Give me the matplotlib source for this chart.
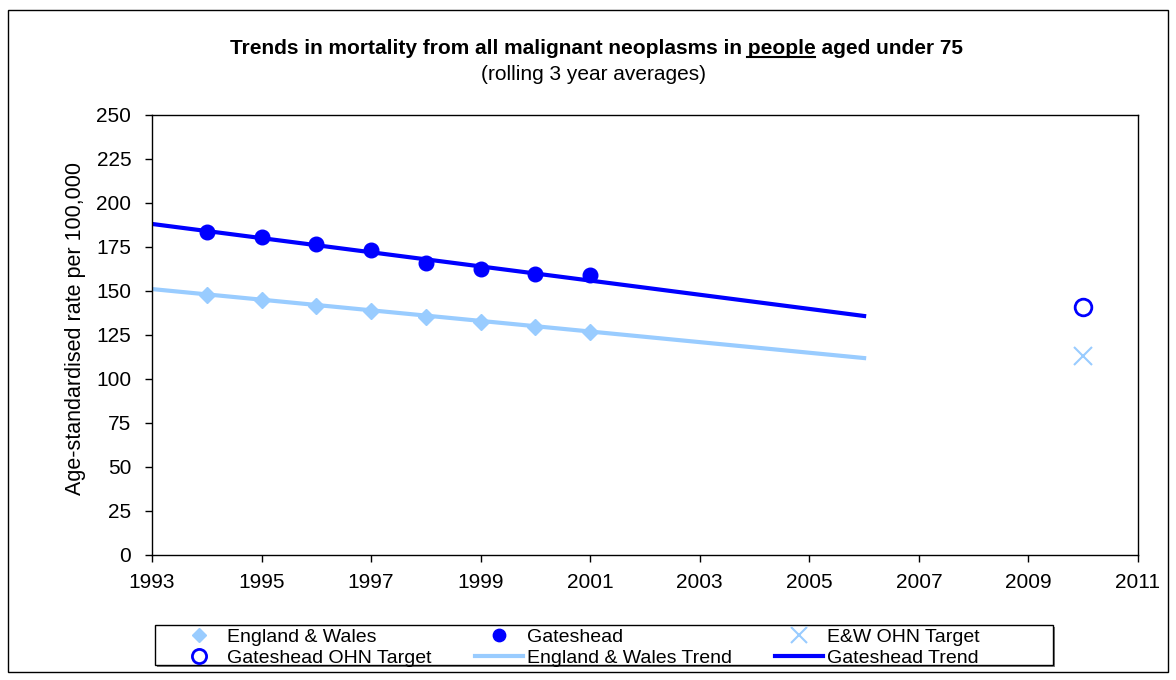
import matplotlib.pyplot as plt
from matplotlib.patches import Rectangle
from matplotlib.lines import Line2D

plt.rcParams['font.family'] = ['Liberation Sans', 'DejaVu Sans']

years = [1994, 1995, 1996, 1997, 1998, 1999, 2000, 2001]
england_wales = [147.7, 144.9, 141.5, 138.8, 135.4, 132.6, 129.4, 126.9]
gateshead = [183.7, 180.9, 176.5, 173.3, 165.7, 162.5, 159.7, 158.9]

trend_years = [1993, 2006]
england_wales_trend = [151.1, 111.9]
gateshead_trend = [188.1, 135.8]

target_year = 2010
ew_target = 113.0
gateshead_target = 141.0

light = '#99CCFF'
dark = '#0000FF'
W, H = 1176, 680

fig = plt.figure(figsize=(W / 100, H / 100), dpi=100)
ax = fig.add_axes([152 / W, 1 - 555 / H, (1138 - 152) / W, (555 - 115) / H])

l_ewt, = ax.plot(trend_years, england_wales_trend, color=light, lw=3, zorder=2)
l_gt, = ax.plot(trend_years, gateshead_trend, color=dark, lw=3, zorder=2)
l_ew, = ax.plot(years, england_wales, ls='none', marker='D', ms=8, color=light, zorder=3)
l_g, = ax.plot(years, gateshead, ls='none', marker='o', ms=10.5, color=dark, zorder=3)
l_ewo, = ax.plot([target_year], [ew_target], ls='none', marker='x', ms=13, mew=1.5, color=light)
l_go, = ax.plot([target_year], [gateshead_target], ls='none', marker='o', ms=12, mfc='white',
                mec=dark, mew=2)

ax.set_xlim(1993, 2011)
ax.set_ylim(0, 250)
ax.set_xticks(range(1993, 2012, 2))
ax.set_yticks(range(0, 251, 25))
ax.tick_params(labelsize=15, direction='out', length=5, width=1)
ax.tick_params(axis='y', pad=10)
ax.tick_params(axis='x', pad=8)
for s in ax.spines.values():
    s.set_linewidth(1)
fig.text(76 / W, 1 - 328 / H, 'Age-standardised rate per 100,000', rotation=90,
         ha='center', va='center', fontsize=15.5)

# title with underlined word
pre = 'Trends in mortality from all malignant neoplasms in '
word = 'people'
full = pre + word + ' aged under 75'
t = fig.text(596 / W, 1 - 48 / H, full, ha='center', va='center', fontsize=15, fontweight='bold')
fig.text(594 / W, 1 - 75 / H, '(rolling 3 year averages)', ha='center', va='center', fontsize=15)
fig.canvas.draw()
r = fig.canvas.get_renderer()
bb = t.get_window_extent(r)
tp = fig.text(0, 0, pre, fontsize=15, fontweight='bold')
tw = fig.text(0, 0, pre + word, fontsize=15, fontweight='bold')
x0 = bb.x0 + tp.get_window_extent(r).width
x1 = bb.x0 + tw.get_window_extent(r).width
tp.remove()
tw.remove()
uy = bb.y0 + 1
fig.add_artist(Line2D([x0 / W, x1 / W], [uy / H, uy / H], color='black', lw=1.5))

# legend: box plus three single-column legends
fig.add_artist(Rectangle((157 / W, 1 - 667 / H), 898 / W, 40 / H, facecolor='#808080',
                         edgecolor='none', transform=fig.transFigure, zorder=1))
fig.add_artist(Rectangle((155 / W, 1 - 665 / H), 898 / W, 40 / H, facecolor='white',
                         edgecolor='black', lw=1, transform=fig.transFigure, zorder=2))
columns = [
    (175, [l_ew, l_go], ['England & Wales', 'Gateshead OHN Target']),
    (475, [l_g, l_ewt], ['Gateshead', 'England & Wales Trend']),
    (775, [l_ewo, l_gt], ['E&W OHN Target', 'Gateshead Trend']),
]
for xpos, hs, ls in columns:
    leg = fig.legend(hs, ls, loc='upper left', bbox_to_anchor=(xpos / W, 1 - 628 / H),
                     fontsize=14, frameon=False, borderpad=0, borderaxespad=0,
                     labelspacing=0.2, handlelength=2.45, handletextpad=0.2,
                     markerscale=0.85)
    leg.set_zorder(3)

fig.add_artist(Rectangle((8 / W, 8 / H), 1160 / W, 662 / H, fill=False,
                         edgecolor='black', lw=1, transform=fig.transFigure))

fig.savefig('out.png', dpi=100)
